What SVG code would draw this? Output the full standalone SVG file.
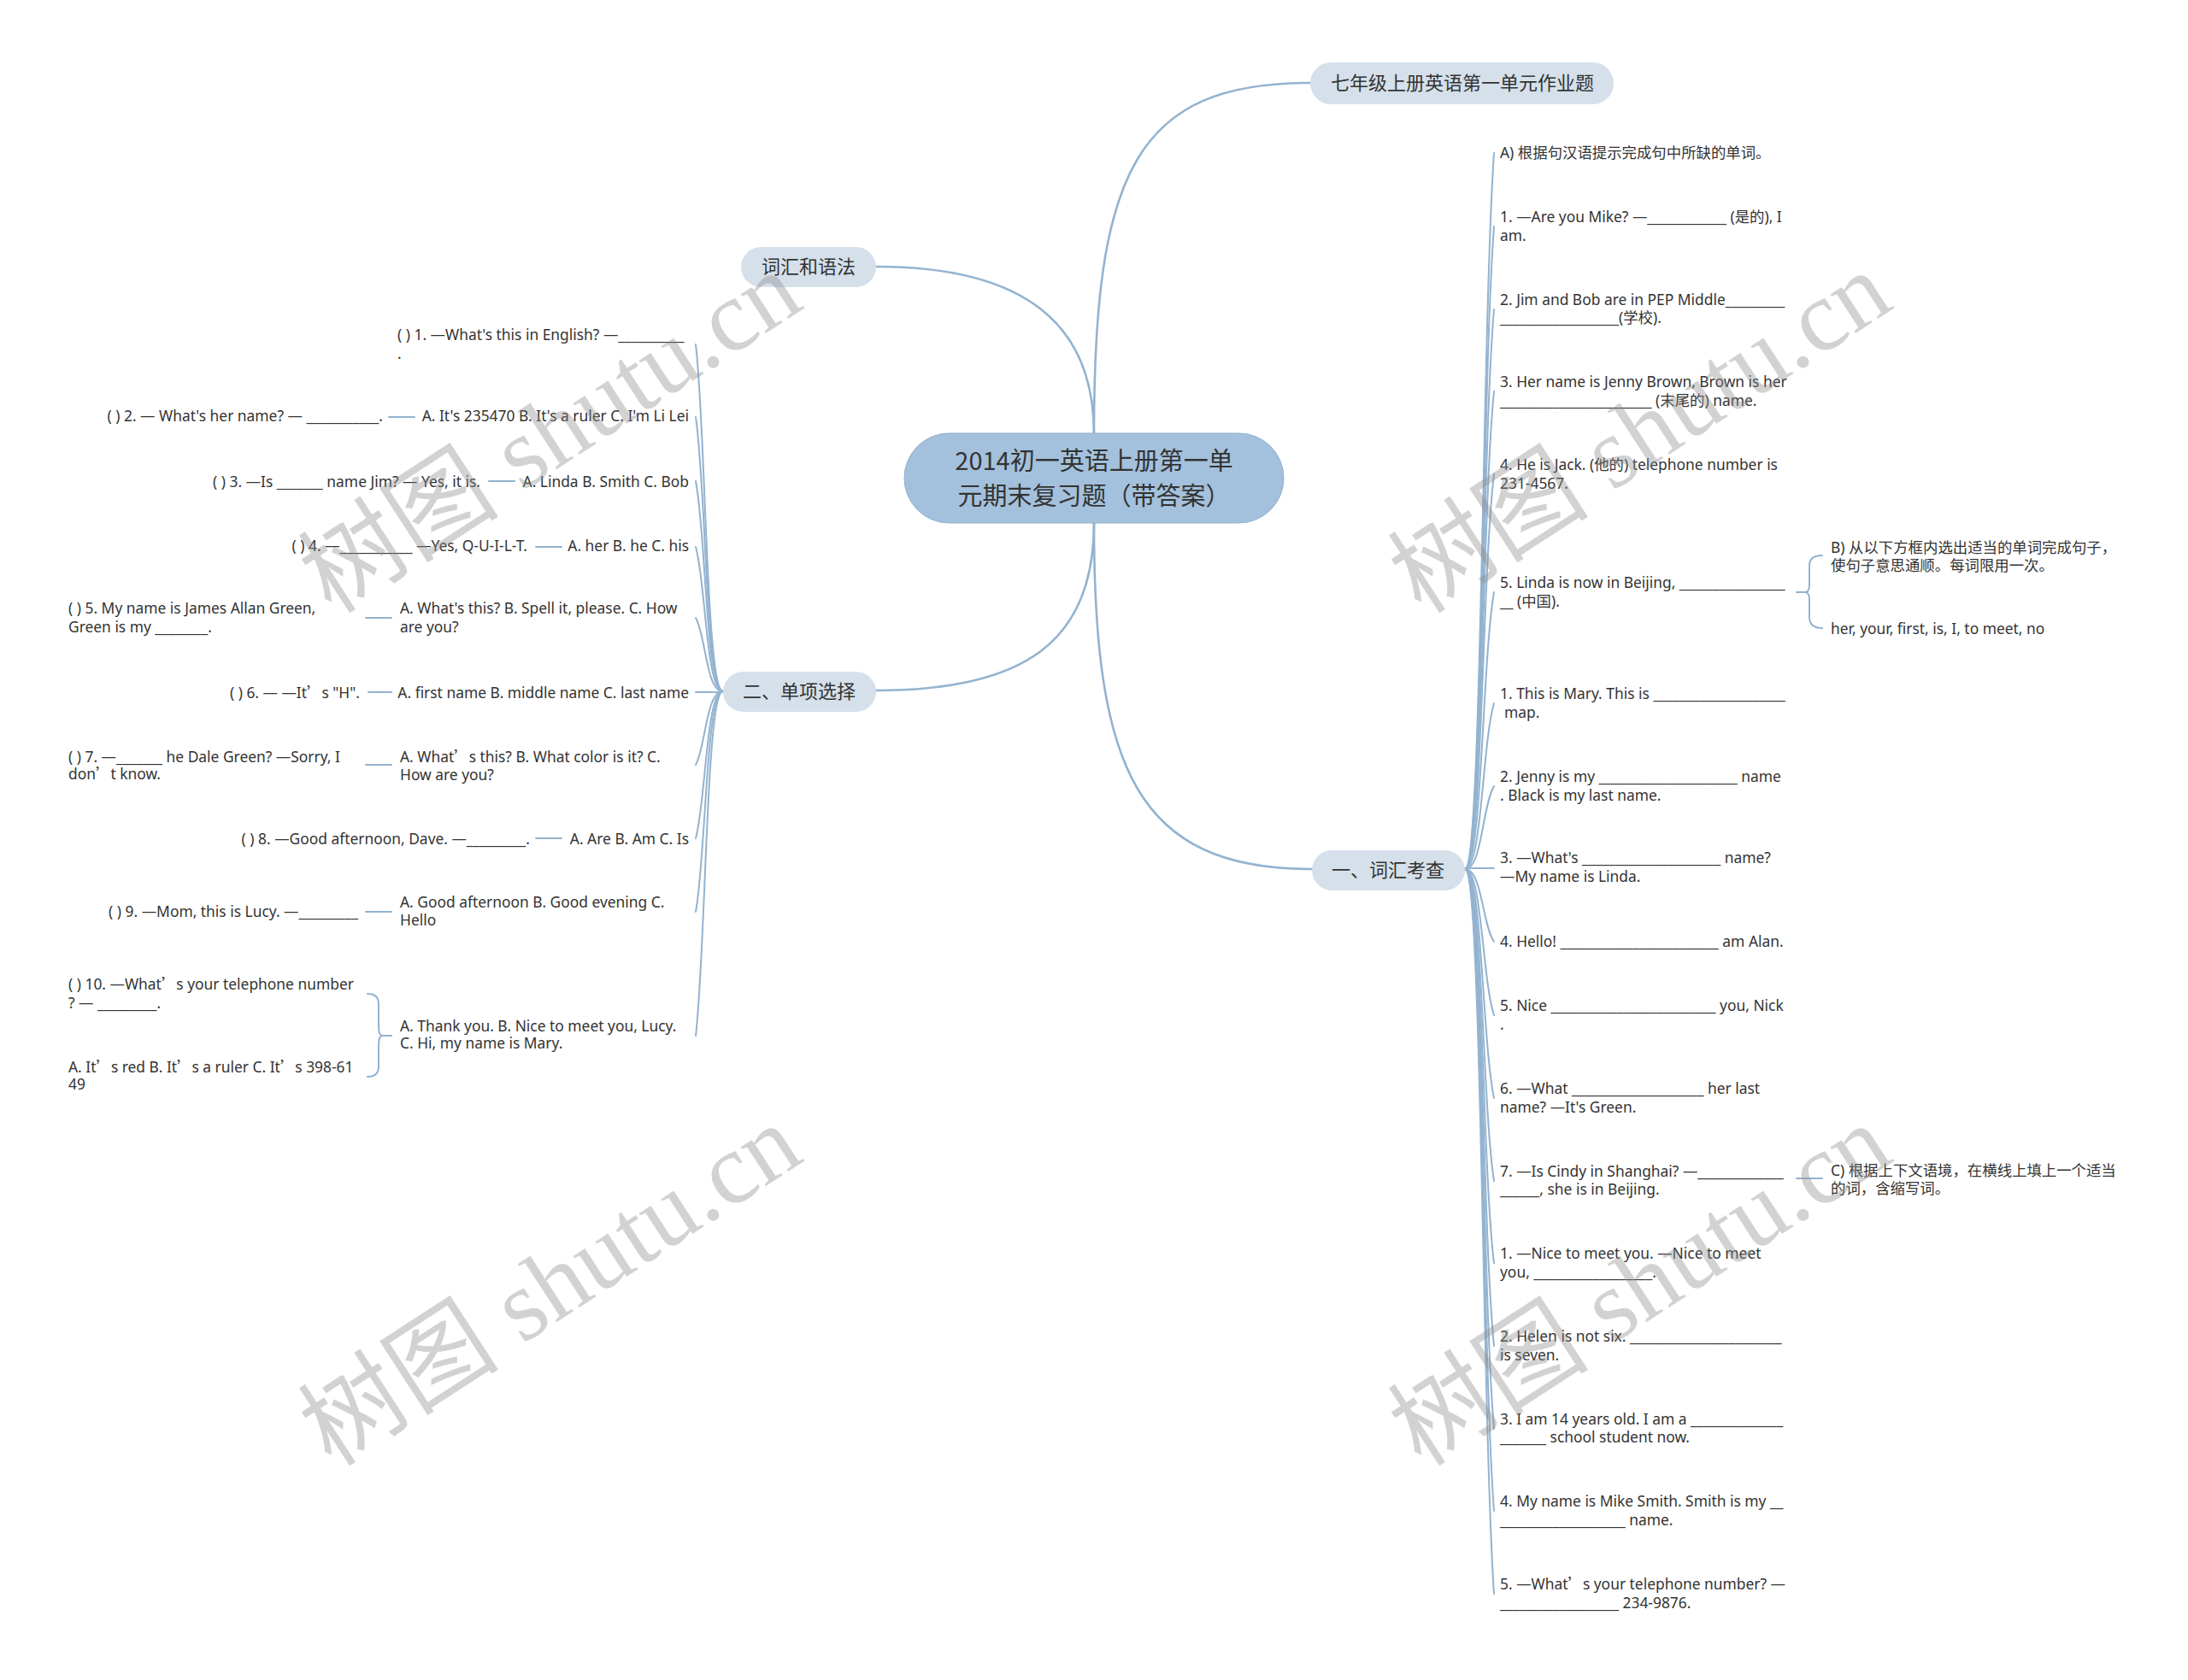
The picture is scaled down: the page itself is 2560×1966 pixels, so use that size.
<svg xmlns="http://www.w3.org/2000/svg" width="2560" height="1966" viewBox="0 0 2560 1966">
<style>
.t{font-family:"Noto Sans","Noto Sans CJK SC",sans-serif;font-size:17.4px;fill:#333}
.e{text-anchor:end}
.cj{font-family:"Noto Sans CJK SC",sans-serif}
.conn path{fill:none;stroke:#93b3d0;stroke-width:2;stroke-linecap:round}
.conn path.m{stroke-width:2.6}
.br rect{fill:#d5e0ea}
.br text{font-family:"Noto Sans CJK SC",sans-serif;font-size:22px;fill:#333;text-anchor:middle}
.wm{font-family:"Liberation Serif","Noto Sans CJK SC",serif;font-size:118px;fill:#8c8c8c;opacity:.38}
</style>
<rect width="2560" height="1966" fill="#fff"/>
<g class="conn">
<path class="m" d="M1280 508 C1280 200,1330 97,1533 97"/>
<path class="m" d="M1280 508 C1280 380,1200 312,1025 312"/>
<path class="m" d="M1280 612 C1280 750,1200 808,1025 808"/>
<path class="m" d="M1280 612 C1280 900,1330 1017,1535 1017"/>
<path d="M1714 1017 C1734 1017,1734 388,1748 179"/>
<path d="M1714 1017 C1734 1017,1734 453,1748 265"/>
<path d="M1714 1017 C1734 1017,1734 526,1748 362"/>
<path d="M1714 1017 C1734 1017,1734 598,1748 458"/>
<path d="M1714 1017 C1734 1017,1734 670,1748 555"/>
<path d="M1714 1017 C1734 1017,1734 774,1748 693"/>
<path d="M1714 1017 C1734 1017,1734 871,1748 823"/>
<path d="M1714 1017 C1734 1017,1734 944,1748 920"/>
<path d="M1714 1016 H1748"/>
<path d="M1714 1017 C1734 1017,1734 1081,1748 1102"/>
<path d="M1714 1017 C1734 1017,1734 1145,1748 1188"/>
<path d="M1714 1017 C1734 1017,1734 1218,1748 1285"/>
<path d="M1714 1017 C1734 1017,1734 1291,1748 1382"/>
<path d="M1714 1017 C1734 1017,1734 1363,1748 1478"/>
<path d="M1714 1017 C1734 1017,1734 1435,1748 1575"/>
<path d="M1714 1017 C1734 1017,1734 1508,1748 1672"/>
<path d="M1714 1017 C1734 1017,1734 1580,1748 1768"/>
<path d="M1714 1017 C1734 1017,1734 1653,1748 1865"/>
<path d="M2102 693 H2112 Q2117 693 2117 684 V662 Q2117 650 2132 650"/>
<path d="M2112 693 Q2117 693 2117 702 V722 Q2117 735 2132 735"/>
<path d="M2102 1379 H2132"/>
<path d="M846 809 C826 809,826 504,814 403"/>
<path d="M846 809 C826 809,826 568,814 488"/>
<path d="M846 809 C826 809,826 624,814 563"/>
<path d="M846 809 C826 809,826 682,814 640"/>
<path d="M846 809 C826 809,826 744,814 723"/>
<path d="M846 810 H814"/>
<path d="M846 809 C826 809,826 873,814 895"/>
<path d="M846 809 C826 809,826 938,814 981"/>
<path d="M846 809 C826 809,826 1002,814 1067"/>
<path d="M846 809 C826 809,826 1111,814 1212"/>
<path d="M485 488 H455"/>
<path d="M602 563 H572"/>
<path d="M657 640 H627"/>
<path d="M458 723 H428"/>
<path d="M458 810 H431"/>
<path d="M458 895 H428"/>
<path d="M657 981 H627"/>
<path d="M458 1067 H428"/>
<path d="M458 1212 H448 Q443 1212 443 1202 V1175 Q443 1163 430 1163"/>
<path d="M448 1212 Q443 1212 443 1222 V1248 Q443 1260 430 1260"/>
</g>
<g id="root">
<rect x="1058" y="507" width="444" height="105" rx="52.5" fill="#a3c1dc" stroke="#8fb0cf" stroke-width="1"/>
<text x="1280" y="550" font-family="'Noto Sans CJK SC',sans-serif" font-size="29" fill="#333" text-anchor="middle">2014初一英语上册第一单</text>
<text x="1280" y="591" font-family="'Noto Sans CJK SC',sans-serif" font-size="29" fill="#333" text-anchor="middle">元期末复习题（带答案）</text>
</g>
<g id="n-hw" class="br"><rect x="1533" y="73" width="355" height="49" rx="24.5"/><text x="1711" y="105">七年级上册英语第一单元作业题</text></g>
<g id="n-vocab" class="br"><rect x="867" y="289" width="158" height="47" rx="23.5"/><text x="946" y="320">词汇和语法</text></g>
<g id="n-choice" class="br"><rect x="846" y="786" width="179" height="47" rx="23.5"/><text x="935" y="817">二、单项选择</text></g>
<g id="n-words" class="br"><rect x="1535" y="995" width="179" height="47" rx="23.5"/><text x="1624" y="1026">一、词汇考查</text></g>
<g id="right-items">
<g id="r-a"><text class="t" x="1755" y="185">A) 根据句汉语提示完成句中所缺的单词。</text></g>
<g id="r-1"><text class="t" x="1755" y="260">1. —Are you Mike? —____________ (是的), I</text><text class="t" x="1755" y="282">am.</text></g>
<g id="r-2"><text class="t" x="1755" y="357">2. Jim and Bob are in PEP Middle_________</text><text class="t" x="1755" y="378">__________________(学校).</text></g>
<g id="r-3"><text class="t" x="1755" y="453">3. Her name is Jenny Brown, Brown is her</text><text class="t" x="1755" y="475">_______________________ (末尾的) name.</text></g>
<g id="r-4"><text class="t" x="1755" y="550">4. He is Jack. (他的) telephone number is</text><text class="t" x="1755" y="572">231-4567.</text></g>
<g id="r-5"><text class="t" x="1755" y="688">5. Linda is now in Beijing, ________________</text><text class="t" x="1755" y="710">__ (中国).</text></g>
<g id="r-b"><text class="t" x="2142" y="647">B) 从以下方框内选出适当的单词完成句子，</text><text class="t" x="2142" y="668">使句子意思通顺。每词限用一次。</text></g>
<g id="r-bw"><text class="t" x="2142" y="742">her, your, first, is, I, to meet, no</text></g>
<g id="r-6"><text class="t" x="1755" y="818">1. This is Mary. This is ____________________</text><text class="t" x="1760" y="840">map.</text></g>
<g id="r-7"><text class="t" x="1755" y="915">2. Jenny is my _____________________ name</text><text class="t" x="1755" y="937">. Black is my last name.</text></g>
<g id="r-8"><text class="t" x="1755" y="1010">3. —What's _____________________ name?</text><text class="t" x="1755" y="1032">—My name is Linda.</text></g>
<g id="r-9"><text class="t" x="1755" y="1108">4. Hello! ________________________ am Alan.</text></g>
<g id="r-10"><text class="t" x="1755" y="1183">5. Nice _________________________ you, Nick</text><text class="t" x="1755" y="1205">.</text></g>
<g id="r-11"><text class="t" x="1755" y="1280">6. —What ____________________ her last</text><text class="t" x="1755" y="1302">name? —It's Green.</text></g>
<g id="r-12"><text class="t" x="1755" y="1377">7. —Is Cindy in Shanghai? —_____________</text><text class="t" x="1755" y="1398">______, she is in Beijing.</text></g>
<g id="r-c"><text class="t" x="2142" y="1376">C) 根据上下文语境，在横线上填上一个适当</text><text class="t" x="2142" y="1397">的词，含缩写词。</text></g>
<g id="r-13"><text class="t" x="1755" y="1473">1. —Nice to meet you. —Nice to meet</text><text class="t" x="1755" y="1495">you, __________________.</text></g>
<g id="r-14"><text class="t" x="1755" y="1570">2. Helen is not six. _______________________</text><text class="t" x="1755" y="1592">is seven.</text></g>
<g id="r-15"><text class="t" x="1755" y="1667">3. I am 14 years old. I am a ______________</text><text class="t" x="1755" y="1688">_______ school student now.</text></g>
<g id="r-16"><text class="t" x="1755" y="1763">4. My name is Mike Smith. Smith is my __</text><text class="t" x="1755" y="1785">___________________ name.</text></g>
<g id="r-17"><text class="t" x="1755" y="1860">5. —What<tspan class="cj">’</tspan>s your telephone number? —</text><text class="t" x="1755" y="1882">__________________ 234-9876.</text></g>
</g>
<g id="left-items">
<g id="l-1"><text class="t" x="465" y="398">( ) 1. —What's this in English? —__________</text><text class="t" x="465" y="420">.</text></g>
<g id="l-2a"><text class="t e" x="806" y="493">A. It's 235470 B. It's a ruler C. I'm Li Lei</text></g>
<g id="l-2q"><text class="t e" x="448" y="493">( ) 2. — What's her name? — ___________.</text></g>
<g id="l-3a"><text class="t e" x="806" y="570">A. Linda B. Smith C. Bob</text></g>
<g id="l-3q"><text class="t e" x="562" y="570">( ) 3. —Is _______ name Jim? — Yes, it is.</text></g>
<g id="l-4a"><text class="t e" x="806" y="645">A. her B. he C. his</text></g>
<g id="l-4q"><text class="t e" x="617" y="645">( ) 4. —___________ —Yes, Q-U-I-L-T.</text></g>
<g id="l-5a"><text class="t" x="468" y="718">A. What's this? B. Spell it, please. C. How</text><text class="t" x="468" y="740">are you?</text></g>
<g id="l-5q"><text class="t" x="80" y="718">( ) 5. My name is James Allan Green,</text><text class="t" x="80" y="740">Green is my ________.</text></g>
<g id="l-6a"><text class="t e" x="806" y="817">A. first name B. middle name C. last name</text></g>
<g id="l-6q"><text class="t e" x="421" y="817">( ) 6. — —It<tspan class="cj">’</tspan>s "H".</text></g>
<g id="l-7a"><text class="t" x="468" y="892">A. What<tspan class="cj">’</tspan>s this? B. What color is it? C.</text><text class="t" x="468" y="913">How are you?</text></g>
<g id="l-7q"><text class="t" x="80" y="892">( ) 7. —_______ he Dale Green? —Sorry, I</text><text class="t" x="80" y="912">don<tspan class="cj">’</tspan>t know.</text></g>
<g id="l-8a"><text class="t e" x="806" y="988">A. Are B. Am C. Is</text></g>
<g id="l-8q"><text class="t e" x="620" y="988">( ) 8. —Good afternoon, Dave. —_________.</text></g>
<g id="l-9a"><text class="t" x="468" y="1062">A. Good afternoon B. Good evening C.</text><text class="t" x="468" y="1083">Hello</text></g>
<g id="l-9q"><text class="t e" x="419" y="1073">( ) 9. —Mom, this is Lucy. —_________</text></g>
<g id="l-10a"><text class="t" x="468" y="1207">A. Thank you. B. Nice to meet you, Lucy.</text><text class="t" x="468" y="1227">C. Hi, my name is Mary.</text></g>
<g id="l-10q"><text class="t" x="80" y="1158">( ) 10. —What<tspan class="cj">’</tspan>s your telephone number</text><text class="t" x="80" y="1180">? — _________.</text></g>
<g id="l-10o"><text class="t" x="80" y="1255">A. It<tspan class="cj">’</tspan>s red B. It<tspan class="cj">’</tspan>s a ruler C. It<tspan class="cj">’</tspan>s 398-61</text><text class="t" x="80" y="1275">49</text></g>
</g>
<g id="watermarks">
<text class="wm" x="388" y="720" transform="rotate(-33 388 720)">树图 shutu.cn</text>
<text class="wm" x="1663" y="720" transform="rotate(-33 1663 720)">树图 shutu.cn</text>
<text class="wm" x="388" y="1718" transform="rotate(-33 388 1718)">树图 shutu.cn</text>
<text class="wm" x="1663" y="1718" transform="rotate(-33 1663 1718)">树图 shutu.cn</text>
</g>
</svg>
